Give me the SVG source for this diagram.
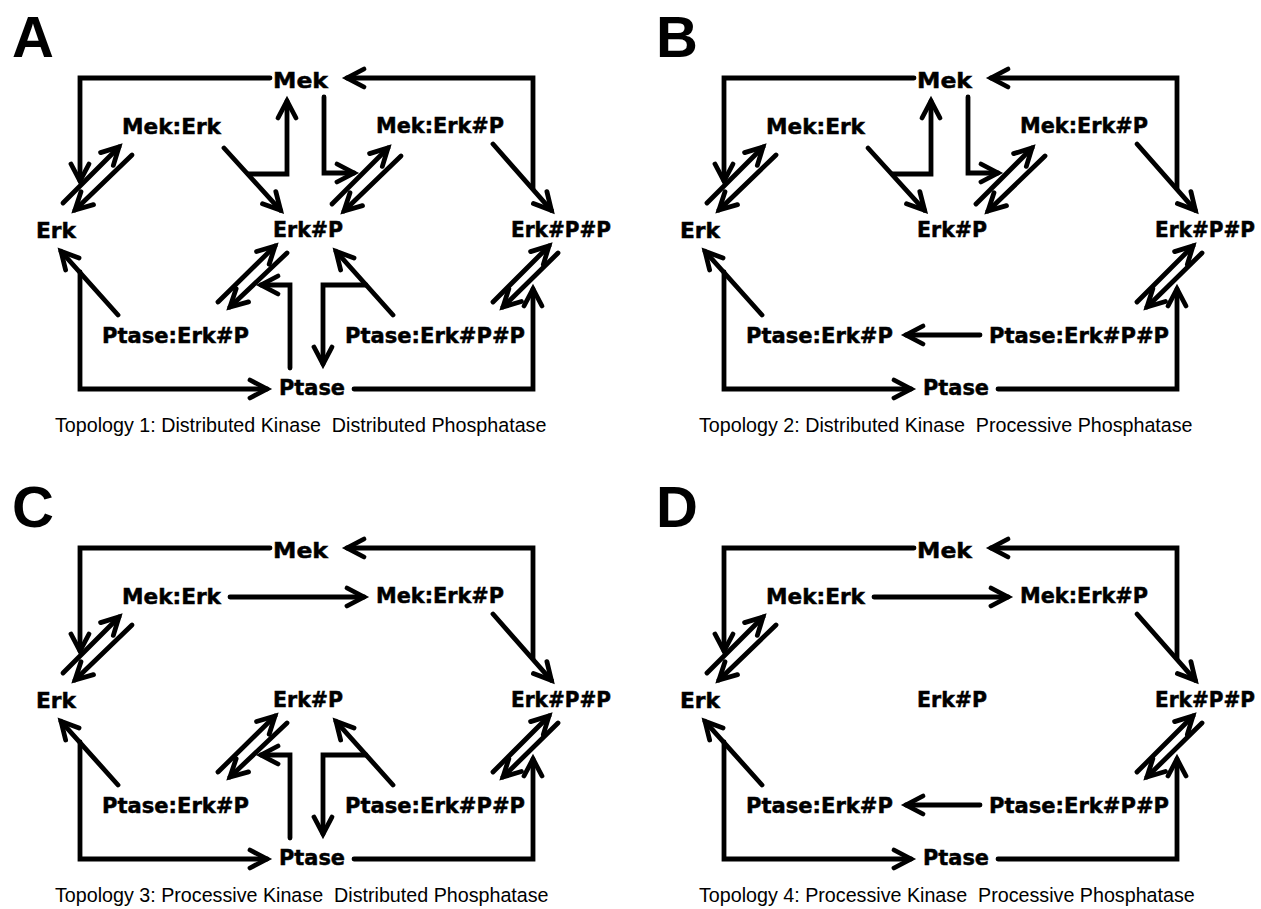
<svg xmlns="http://www.w3.org/2000/svg" width="1261" height="909" viewBox="0 0 1261 909">
<style>
.n{font-family:"DejaVu Sans",Verdana,sans-serif;font-weight:bold;font-size:22px;fill:#000;stroke:#000;stroke-width:0.5}
.n2{font-size:21px}
.pl{font-family:"Liberation Sans",Arial,sans-serif;font-weight:bold;font-size:58px;fill:#000}
.cap{font-family:"Liberation Sans",Arial,sans-serif;font-size:19.7px;fill:#000;white-space:pre}
.c{fill:none;stroke:#000;stroke-width:4.8;stroke-linejoin:miter;stroke-linecap:round}
.a{marker-end:url(#ah)}
</style>
<defs>
<marker id="ah" markerUnits="userSpaceOnUse" markerWidth="40" markerHeight="40" viewBox="-30 -20 40 40" refX="0" refY="0" orient="auto" overflow="visible">
<path d="M-17,-9 L0,0 L-17,9" fill="none" stroke="#000" stroke-width="4.8" stroke-linejoin="miter" stroke-linecap="round"/>
</marker>
</defs>
<rect width="1261" height="909" fill="#fff"/>

<!-- Panel A -->
<g id="panelA">
<text class="pl" x="12" y="57">A</text>
<g id="A-connectors">
<path class="c a" d="M270,78 L80,78 L80,181"/>
<path class="c a" d="M63,203 L119,147"/>
<path class="c a" d="M132,155 L75,210"/>
<path class="c a" d="M224,148 L280.6,210.3"/>
<path class="c a" d="M248,174 L287,174 L287,101"/>
<path class="c a" d="M324,97 L324,173 L354,173"/>
<path class="c a" d="M332,204 L388,148"/>
<path class="c a" d="M401,156 L344,211"/>
<path class="c a" d="M493,144 L551.4,210.3"/>
<path class="c a" d="M533,189 L533,78 L347,78"/>
<path class="c a" d="M118,315 L61,251.3"/>
<path class="c a" d="M80,272 L80,389 L267,389"/>
<path class="c a" d="M218,302 L275,246"/>
<path class="c a" d="M287,253 L230,307"/>
<path class="c a" d="M290,368 L290,285 L261,285"/>
<path class="c a" d="M393,315 L336,251.3"/>
<path class="c a" d="M366,285 L323,285 L323,364"/>
<path class="c a" d="M493,302 L549,246"/>
<path class="c a" d="M558,253 L503,307"/>
<path class="c a" d="M354,389 L533,389 L533,289"/>
</g>
<g id="A-Mek"><text class="n" x="273" y="88" textLength="55" lengthAdjust="spacingAndGlyphs">Mek</text></g>
<g id="A-MekErk"><text class="n" x="122" y="134" textLength="99" lengthAdjust="spacingAndGlyphs">Mek:Erk</text></g>
<g id="A-MekErkP"><text class="n" x="376" y="133" textLength="128" lengthAdjust="spacingAndGlyphs">Mek:Erk#P</text></g>
<g id="A-Erk"><text class="n" x="36" y="238" textLength="40" lengthAdjust="spacingAndGlyphs">Erk</text></g>
<g id="A-ErkP"><text class="n" x="273" y="237" textLength="70" lengthAdjust="spacingAndGlyphs">Erk#P</text></g>
<g id="A-ErkPP"><text class="n n2" x="511" y="237" textLength="100" lengthAdjust="spacingAndGlyphs">Erk#P#P</text></g>
<g id="A-PtaseErkP"><text class="n" x="102" y="343" textLength="147" lengthAdjust="spacingAndGlyphs">Ptase:Erk#P</text></g>
<g id="A-PtaseErkPP"><text class="n" x="345" y="343" textLength="180" lengthAdjust="spacingAndGlyphs">Ptase:Erk#P#P</text></g>
<g id="A-Ptase"><text class="n" x="279" y="395" textLength="66" lengthAdjust="spacingAndGlyphs">Ptase</text></g>
<text class="cap" x="55" y="432" xml:space="preserve">Topology 1: Distributed Kinase  Distributed Phosphatase</text>
</g>

<!-- Panel B -->
<g id="panelB" transform="translate(644,0)">
<text class="pl" x="12" y="57">B</text>
<g id="B-connectors">
<path class="c a" d="M270,78 L80,78 L80,181"/>
<path class="c a" d="M63,203 L119,147"/>
<path class="c a" d="M132,155 L75,210"/>
<path class="c a" d="M224,148 L280.6,210.3"/>
<path class="c a" d="M248,174 L287,174 L287,101"/>
<path class="c a" d="M324,97 L324,173 L354,173"/>
<path class="c a" d="M332,204 L388,148"/>
<path class="c a" d="M401,156 L344,211"/>
<path class="c a" d="M493,144 L551.4,210.3"/>
<path class="c a" d="M533,189 L533,78 L347,78"/>
<path class="c a" d="M118,315 L61,251.3"/>
<path class="c a" d="M80,272 L80,389 L267,389"/>
<path class="c a" d="M336,335 L262,335"/>
<path class="c a" d="M493,302 L549,246"/>
<path class="c a" d="M558,253 L503,307"/>
<path class="c a" d="M354,389 L533,389 L533,289"/>
</g>
<g id="B-Mek"><text class="n" x="273" y="88" textLength="55" lengthAdjust="spacingAndGlyphs">Mek</text></g>
<g id="B-MekErk"><text class="n" x="122" y="134" textLength="99" lengthAdjust="spacingAndGlyphs">Mek:Erk</text></g>
<g id="B-MekErkP"><text class="n" x="376" y="133" textLength="128" lengthAdjust="spacingAndGlyphs">Mek:Erk#P</text></g>
<g id="B-Erk"><text class="n" x="36" y="238" textLength="40" lengthAdjust="spacingAndGlyphs">Erk</text></g>
<g id="B-ErkP"><text class="n" x="273" y="237" textLength="70" lengthAdjust="spacingAndGlyphs">Erk#P</text></g>
<g id="B-ErkPP"><text class="n n2" x="511" y="237" textLength="100" lengthAdjust="spacingAndGlyphs">Erk#P#P</text></g>
<g id="B-PtaseErkP"><text class="n" x="102" y="343" textLength="147" lengthAdjust="spacingAndGlyphs">Ptase:Erk#P</text></g>
<g id="B-PtaseErkPP"><text class="n" x="345" y="343" textLength="180" lengthAdjust="spacingAndGlyphs">Ptase:Erk#P#P</text></g>
<g id="B-Ptase"><text class="n" x="279" y="395" textLength="66" lengthAdjust="spacingAndGlyphs">Ptase</text></g>
<text class="cap" x="55" y="432" xml:space="preserve">Topology 2: Distributed Kinase  Processive Phosphatase</text>
</g>

<!-- Panel C -->
<g id="panelC" transform="translate(0,470)">
<text class="pl" x="12" y="57">C</text>
<g id="C-connectors">
<path class="c a" d="M270,78 L80,78 L80,181"/>
<path class="c a" d="M63,203 L119,147"/>
<path class="c a" d="M132,155 L75,210"/>
<path class="c a" d="M230,127 L364,127"/>
<path class="c a" d="M493,144 L551.4,210.3"/>
<path class="c a" d="M533,189 L533,78 L347,78"/>
<path class="c a" d="M118,315 L61,251.3"/>
<path class="c a" d="M80,272 L80,389 L267,389"/>
<path class="c a" d="M218,302 L275,246"/>
<path class="c a" d="M287,253 L230,307"/>
<path class="c a" d="M290,368 L290,285 L261,285"/>
<path class="c a" d="M393,315 L336,251.3"/>
<path class="c a" d="M366,285 L323,285 L323,364"/>
<path class="c a" d="M493,302 L549,246"/>
<path class="c a" d="M558,253 L503,307"/>
<path class="c a" d="M354,389 L533,389 L533,289"/>
</g>
<g id="C-Mek"><text class="n" x="273" y="88" textLength="55" lengthAdjust="spacingAndGlyphs">Mek</text></g>
<g id="C-MekErk"><text class="n" x="122" y="134" textLength="99" lengthAdjust="spacingAndGlyphs">Mek:Erk</text></g>
<g id="C-MekErkP"><text class="n" x="376" y="133" textLength="128" lengthAdjust="spacingAndGlyphs">Mek:Erk#P</text></g>
<g id="C-Erk"><text class="n" x="36" y="238" textLength="40" lengthAdjust="spacingAndGlyphs">Erk</text></g>
<g id="C-ErkP"><text class="n" x="273" y="237" textLength="70" lengthAdjust="spacingAndGlyphs">Erk#P</text></g>
<g id="C-ErkPP"><text class="n n2" x="511" y="237" textLength="100" lengthAdjust="spacingAndGlyphs">Erk#P#P</text></g>
<g id="C-PtaseErkP"><text class="n" x="102" y="343" textLength="147" lengthAdjust="spacingAndGlyphs">Ptase:Erk#P</text></g>
<g id="C-PtaseErkPP"><text class="n" x="345" y="343" textLength="180" lengthAdjust="spacingAndGlyphs">Ptase:Erk#P#P</text></g>
<g id="C-Ptase"><text class="n" x="279" y="395" textLength="66" lengthAdjust="spacingAndGlyphs">Ptase</text></g>
<text class="cap" x="55" y="432" xml:space="preserve">Topology 3: Processive Kinase  Distributed Phosphatase</text>
</g>

<!-- Panel D -->
<g id="panelD" transform="translate(644,470)">
<text class="pl" x="12" y="57">D</text>
<g id="D-connectors">
<path class="c a" d="M270,78 L80,78 L80,181"/>
<path class="c a" d="M63,203 L119,147"/>
<path class="c a" d="M132,155 L75,210"/>
<path class="c a" d="M230,127 L364,127"/>
<path class="c a" d="M493,144 L551.4,210.3"/>
<path class="c a" d="M533,189 L533,78 L347,78"/>
<path class="c a" d="M118,315 L61,251.3"/>
<path class="c a" d="M80,272 L80,389 L267,389"/>
<path class="c a" d="M336,335 L262,335"/>
<path class="c a" d="M493,302 L549,246"/>
<path class="c a" d="M558,253 L503,307"/>
<path class="c a" d="M354,389 L533,389 L533,289"/>
</g>
<g id="D-Mek"><text class="n" x="273" y="88" textLength="55" lengthAdjust="spacingAndGlyphs">Mek</text></g>
<g id="D-MekErk"><text class="n" x="122" y="134" textLength="99" lengthAdjust="spacingAndGlyphs">Mek:Erk</text></g>
<g id="D-MekErkP"><text class="n" x="376" y="133" textLength="128" lengthAdjust="spacingAndGlyphs">Mek:Erk#P</text></g>
<g id="D-Erk"><text class="n" x="36" y="238" textLength="40" lengthAdjust="spacingAndGlyphs">Erk</text></g>
<g id="D-ErkP"><text class="n" x="273" y="237" textLength="70" lengthAdjust="spacingAndGlyphs">Erk#P</text></g>
<g id="D-ErkPP"><text class="n n2" x="511" y="237" textLength="100" lengthAdjust="spacingAndGlyphs">Erk#P#P</text></g>
<g id="D-PtaseErkP"><text class="n" x="102" y="343" textLength="147" lengthAdjust="spacingAndGlyphs">Ptase:Erk#P</text></g>
<g id="D-PtaseErkPP"><text class="n" x="345" y="343" textLength="180" lengthAdjust="spacingAndGlyphs">Ptase:Erk#P#P</text></g>
<g id="D-Ptase"><text class="n" x="279" y="395" textLength="66" lengthAdjust="spacingAndGlyphs">Ptase</text></g>
<text class="cap" x="55" y="432" xml:space="preserve">Topology 4: Processive Kinase  Processive Phosphatase</text>
</g>
</svg>
